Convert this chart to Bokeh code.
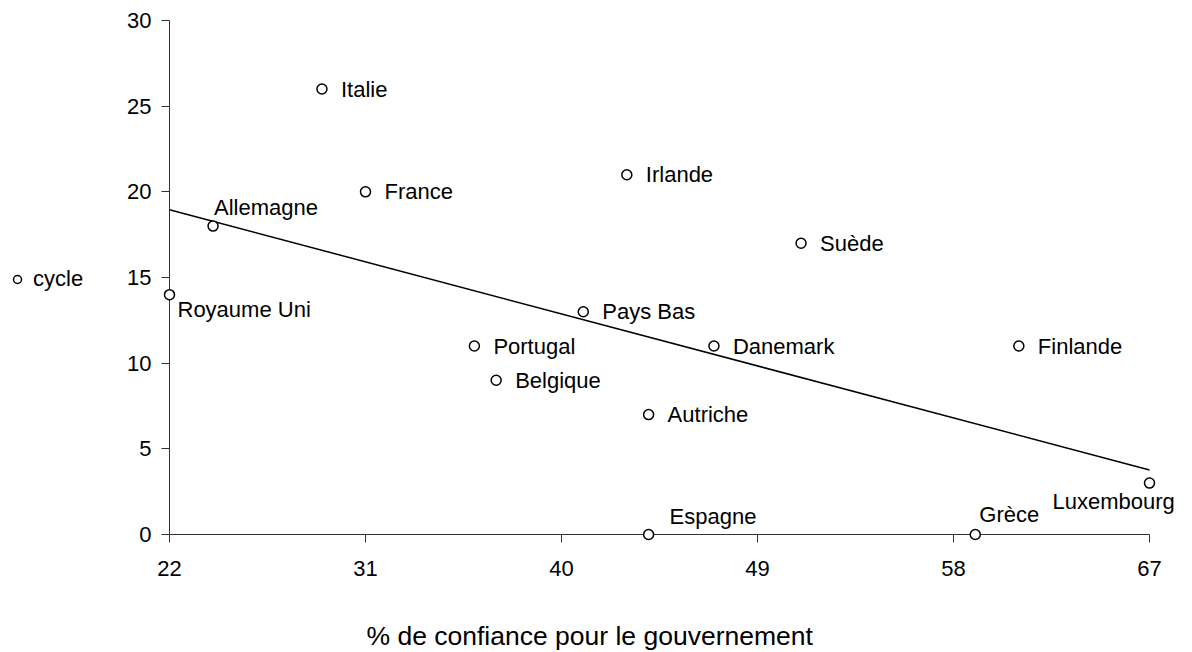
import numpy as np
from bokeh.plotting import figure
from bokeh.models import (ColumnDataSource, Range1d, FixedTicker, Legend, LegendItem, Label)
from bokeh.core.properties import value
from bokeh.embed import file_html
from bokeh.resources import INLINE

# ---- data ----
pays = ["Italie", "France", "Allemagne", "Royaume Uni", "Irlande", "Suède", "Pays Bas",
        "Portugal", "Danemark", "Finlande", "Belgique", "Autriche", "Luxembourg",
        "Espagne", "Grèce"]
confiance = [29, 31, 24, 22, 43, 51, 41, 36, 47, 61, 37, 44, 67, 44, 59]
cycle = [26, 20, 18, 14, 21, 17, 13, 11, 11, 11, 9, 7, 3, 0, 0]
x_ticks = [22, 31, 40, 49, 58, 67]
y_ticks = [0, 5, 10, 15, 20, 25, 30]
x_title = "% de confiance pour le gouvernement"
series_name = "cycle"

# ---- layout (pixels) ----
W, H = 1192, 652
PX_LEFT, PX_RIGHT = 169, 1149     # pixel positions of the x axis ends
PY_TOP, PY_BOTTOM = 20, 534       # pixel positions of the y axis ends
x_lo, x_hi = x_ticks[0], x_ticks[-1]
y_lo, y_hi = y_ticks[0], y_ticks[-1]
xs = (PX_RIGHT - PX_LEFT) / (x_hi - x_lo)
ys = (PY_BOTTOM - PY_TOP) / (y_hi - y_lo)

# label placement (screen pixels, style only)
label_dx = {"Allemagne": 1, "Royaume Uni": 8, "Luxembourg": -97, "Espagne": 21, "Grèce": 4}
label_dy = {"Allemagne": -19, "Royaume Uni": 15, "Luxembourg": 18, "Espagne": -18, "Grèce": -20}

FONT = "Liberation Sans"

p = figure(width=W, height=H, output_backend="svg", toolbar_location=None,
           x_range=Range1d(x_lo - PX_LEFT / xs, x_hi + (W - PX_RIGHT) / xs),
           y_range=Range1d(y_lo - (H - PY_BOTTOM) / ys, y_hi + PY_TOP / ys),
           min_border=0, min_border_left=0, min_border_right=0,
           min_border_top=0, min_border_bottom=0)
p.outline_line_color = None
p.xgrid.visible = False
p.ygrid.visible = False
p.background_fill_color = "white"
p.border_fill_color = "white"

for ax in (p.xaxis[0], p.yaxis[0]):
    ax.axis_line_color = "#333333"
    ax.major_tick_line_color = "#333333"
    ax.minor_tick_line_color = None
    ax.major_tick_in = 0
    ax.major_tick_out = 8
    ax.major_label_text_font = FONT
    ax.major_label_text_font_size = "22px"
    ax.major_label_text_color = "black"

p.xaxis[0].ticker = FixedTicker(ticks=x_ticks)
p.yaxis[0].ticker = FixedTicker(ticks=y_ticks)
p.xaxis[0].fixed_location = y_lo
p.yaxis[0].fixed_location = x_lo
p.xaxis[0].bounds = (x_lo, x_hi)
p.yaxis[0].bounds = (y_lo, y_hi)
p.xaxis[0].major_label_standoff = 18
p.yaxis[0].major_label_standoff = 10

# trend line (least squares from data)
slope, intercept = np.polyfit(confiance, cycle, 1)
tx = [x_lo, x_hi]
ty = [slope * v + intercept for v in tx]
p.line(tx, ty, line_color="black", line_width=1.5)

src = ColumnDataSource(dict(
    x=confiance, y=cycle, name=pays,
    dx=[label_dx.get(n, 19) for n in pays],
    dy=[label_dy.get(n, 0) for n in pays],
))
sc = p.scatter("x", "y", source=src, size=10, marker="circle",
               fill_color="white", line_color="black", line_width=1.5, level="overlay")
p.text("x", "y", text="name", source=src, x_offset="dx", y_offset="dy",
       text_font=value(FONT), text_font_size="22px", text_color="black",
       text_align="left", text_baseline="middle")

legend = Legend(items=[LegendItem(label=series_name, renderers=[sc])],
                location=(7, H - 279 - 13), orientation="vertical")
legend.label_text_font = FONT
legend.label_text_font_size = "22px"
legend.label_text_color = "black"
legend.glyph_width = 20
legend.glyph_height = 26
legend.label_standoff = 6
legend.padding = 0
legend.margin = 0
legend.spacing = 0
legend.border_line_color = None
legend.background_fill_alpha = 0
p.add_layout(legend, "center")

title = Label(x=x_lo + (366 - PX_LEFT) / xs, y=y_lo - (635 - PY_BOTTOM) / ys,
              text=x_title, text_font=FONT, text_font_size="26.5px",
              text_color="black", text_align="left", text_baseline="middle")
p.add_layout(title)

open("out.html", "w").write(file_html(p, INLINE))
